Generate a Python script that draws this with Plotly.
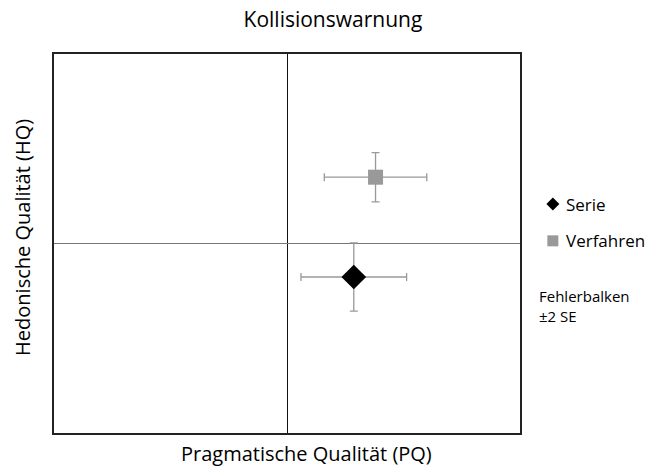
import plotly.graph_objects as go

# Mean scores on the UEQ scales with ±2 SE error bars
series_names = ["Serie", "Verfahren"]
pq_values = [0.86, 1.14]
hq_values = [-0.53, 1.05]
pq_errors = [0.68, 0.66]
hq_errors = [0.54, 0.39]
marker_symbols = ["diamond", "square"]
marker_colors = ["#000000", "#999999"]
marker_sizes = [19, 15]

font_family = "Open Sans, Liberation Sans, sans-serif"

fig = go.Figure()
for i, name in enumerate(series_names):
    fig.add_trace(go.Scatter(
        x=[pq_values[i]], y=[hq_values[i]], name=name, mode="markers",
        marker=dict(symbol=marker_symbols[i], color=marker_colors[i], size=marker_sizes[i],
                    line=dict(width=0)),
        error_x=dict(type="data", array=[pq_errors[i]], color="#999999", thickness=1.3, width=4),
        error_y=dict(type="data", array=[hq_errors[i]], color="#999999", thickness=1.3, width=4),
        showlegend=False,
    ))

axis_common = dict(range=[-3, 3], showticklabels=False, ticks="", showgrid=False,
                   showline=True, linecolor="#222222", linewidth=1.5, mirror=True,
                   zeroline=True, zerolinewidth=1)

# Hand-drawn legend: symbol shapes sized in pixels next to text labels
legend_y = [0.604, 0.507]
legend_paths = [
    "M-6.5,0 L0,-6.5 L6.5,0 L0,6.5 Z",   # diamond
    "M-5.5,-5.5 L5.5,-5.5 L5.5,5.5 L-5.5,5.5 Z",  # square
]
shapes = []
annotations = []
for i, name in enumerate(series_names):
    shapes.append(dict(type="path", xref="paper", yref="paper",
                       xsizemode="pixel", ysizemode="pixel",
                       xanchor=1.0705, yanchor=legend_y[i], path=legend_paths[i],
                       fillcolor=marker_colors[i], line=dict(width=0)))
    annotations.append(dict(text=name, xref="paper", yref="paper", x=1.094, y=legend_y[i],
                            xanchor="left", yanchor="middle", showarrow=False,
                            font=dict(size=17)))

annotations += [
    dict(text="Fehlerbalken<br>±2 SE", xref="paper", yref="paper",
         x=1.036, y=0.392, xanchor="left", yanchor="top", showarrow=False,
         align="left", font=dict(size=15)),
    dict(text="Pragmatische Qualität (PQ)", xref="paper", yref="paper",
         x=0.541, y=-0.053, xanchor="center", yanchor="middle", showarrow=False,
         font=dict(size=20)),
    dict(text="Hedonische Qualität (HQ)", xref="paper", yref="paper", textangle=-90,
         x=-0.069, y=0.517, xanchor="center", yanchor="middle", showarrow=False,
         font=dict(size=20)),
]

fig.update_layout(
    width=649, height=468,
    margin=dict(l=54, r=129, t=54, b=35, autoexpand=False),
    plot_bgcolor="white", paper_bgcolor="white",
    font=dict(family=font_family, color="#000000"),
    title=dict(text="Kollisionswarnung", x=0.513, xanchor="center", y=0.957, yanchor="middle",
               font=dict(size=21)),
    xaxis=dict(**axis_common, zerolinecolor="#111111"),
    yaxis=dict(**axis_common, zerolinecolor="#777777"),
    showlegend=False,
    shapes=shapes,
    annotations=annotations,
)

fig.write_html("out.html")
